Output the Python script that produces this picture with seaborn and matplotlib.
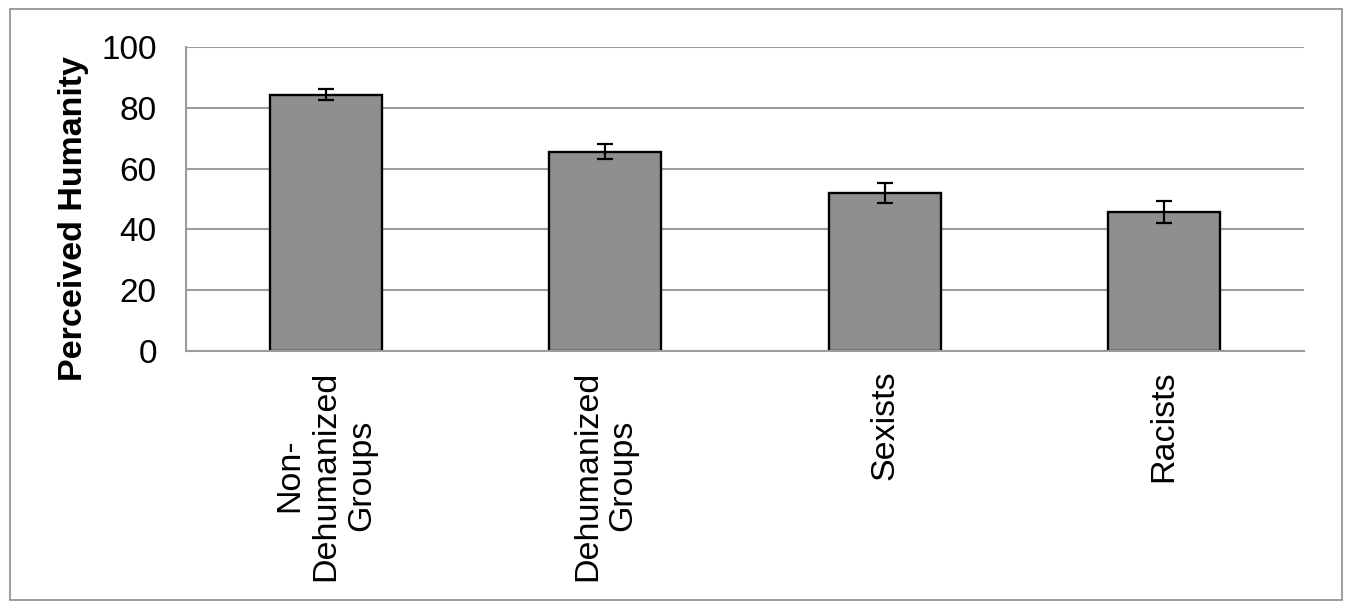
import matplotlib
matplotlib.use("Agg")
import matplotlib.pyplot as plt
import seaborn as sns
import numpy as np
from matplotlib.patches import Rectangle

# data
groups = ["Non-\nDehumanized\nGroups", "Dehumanized\nGroups", "Sexists", "Racists"]
humanity = [84.3, 65.6, 51.9, 45.6]
err = [1.8, 2.6, 3.3, 3.6]

sns.set_style("white")
plt.rcParams['font.family'] = ['Liberation Sans', 'DejaVu Sans']
plt.rcParams['text.color'] = 'black'
plt.rcParams['axes.labelcolor'] = 'black'
plt.rcParams['xtick.color'] = 'black'
plt.rcParams['ytick.color'] = 'black'

fig = plt.figure(figsize=(13.51, 6.09), dpi=100)
ax = fig.add_axes([0.1377, 0.4236, 0.8275, 0.4992])

sns.barplot(x=groups, y=humanity, color="#8f8f8f", saturation=1, width=0.4,
            edgecolor="black", linewidth=1.7, errorbar=None, ax=ax)
ax.errorbar(np.arange(len(groups)), humanity, yerr=err, fmt="none",
            ecolor="black", elinewidth=1.6, capsize=6, capthick=1.6)

ax.set_ylim(0, 100)
ax.set_xlim(-0.5, len(groups) - 0.5)
ax.set_yticks(range(0, 101, 20))
ax.yaxis.grid(True, color="#9c9c9c", linewidth=1.5)
ax.set_axisbelow(True)

# category boundaries as ticks, labels on minor ticks
ax.set_xticks(np.arange(-0.5, len(groups), 1.0))
ax.set_xticklabels([])
ax.set_xticks(np.arange(len(groups)), minor=True)
ax.set_xticklabels(groups, minor=True, rotation=90, ha="center", va="top",
                   multialignment="center", fontsize=24.5)
ax.tick_params(axis="x", which="minor", length=0, pad=14, labelcolor="black")
ax.tick_params(axis="x", which="major", length=7, width=1.5, color="#9c9c9c", direction="out")
ax.tick_params(axis="y", length=6, width=1.5, color="#9c9c9c", direction="out",
               labelsize=24, pad=15, labelcolor="black")

for s in ["top", "right"]:
    ax.spines[s].set_visible(False)
for s in ["left", "bottom"]:
    ax.spines[s].set_color("#9c9c9c")
    ax.spines[s].set_linewidth(1.5)

ax.set_ylabel("Perceived Humanity", fontsize=24.5, fontweight="bold", color="black")
ax.yaxis.set_label_coords(-0.087, 0.436)

fig.patches.append(Rectangle((10 / 1351, 9 / 609), 1332 / 1351, 591 / 609,
                             transform=fig.transFigure, fill=False,
                             edgecolor="#8c8c8c", linewidth=1.2))

plt.savefig("out.png", dpi=100)
